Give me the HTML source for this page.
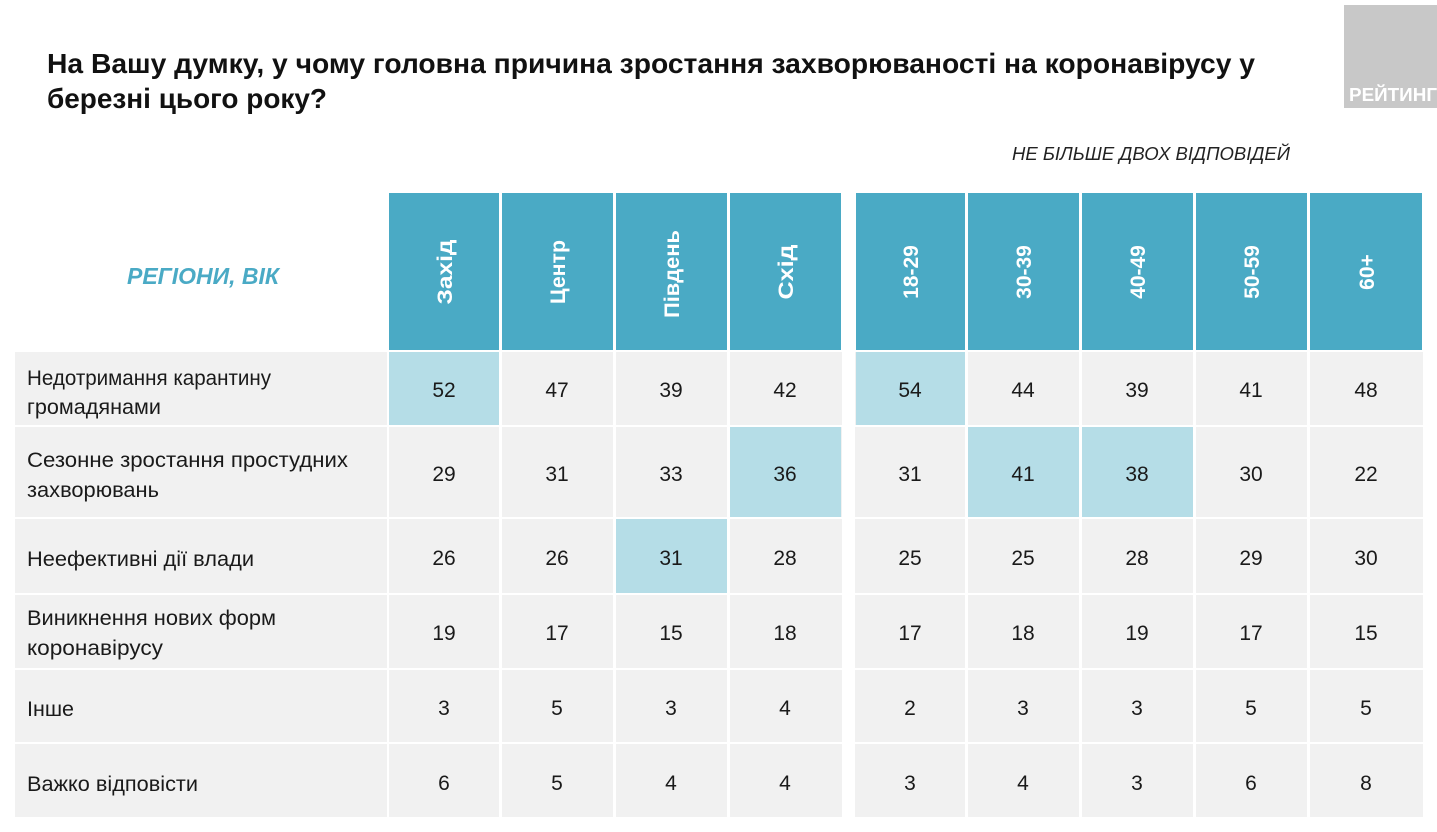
<!DOCTYPE html>
<html><head><meta charset="utf-8"><style>html,body{margin:0;padding:0;background:#fff}svg{display:block}</style></head>
<body>
<svg width="1437" height="832" viewBox="0 0 1437 832" xmlns="http://www.w3.org/2000/svg" font-family="'Liberation Sans', 'DejaVu Sans', sans-serif">
<rect width="1437" height="832" fill="#fff"/>
<text x="47" y="73" font-size="28" font-weight="bold" fill="#111" textLength="1208" lengthAdjust="spacingAndGlyphs">На Вашу думку, у чому головна причина зростання захворюваності на коронавірусу у</text>
<text x="47" y="108" font-size="28" font-weight="bold" fill="#111" textLength="280" lengthAdjust="spacingAndGlyphs">березні цього року?</text>
<rect x="1344" y="5" width="93" height="103" fill="#c8c8c8"/>
<text x="1349" y="101" font-size="18" font-weight="bold" fill="#fff" textLength="88" lengthAdjust="spacingAndGlyphs">РЕЙТИНГ</text>
<text x="1012" y="160" font-size="18" font-style="italic" fill="#222" textLength="278" lengthAdjust="spacingAndGlyphs">НЕ БІЛЬШЕ ДВОХ ВІДПОВІДЕЙ</text>
<text x="127" y="284" font-size="23" font-style="italic" font-weight="bold" fill="#4aaac5" textLength="152" lengthAdjust="spacingAndGlyphs">РЕГІОНИ, ВІК</text>
<rect x="15" y="352" width="1408" height="465" fill="#f1f1f1"/>
<g fill="#4aaac5">
<rect x="389" y="193" width="110" height="157"/><rect x="502" y="193" width="111" height="157"/><rect x="616" y="193" width="111" height="157"/><rect x="730" y="193" width="111" height="157"/>
<rect x="856" y="193" width="109" height="157"/><rect x="968" y="193" width="111" height="157"/><rect x="1082" y="193" width="111" height="157"/><rect x="1196" y="193" width="111" height="157"/><rect x="1310" y="193" width="112" height="157"/>
</g>
<rect x="842" y="352" width="13" height="465" fill="#fff"/>
<g fill="#b5dde7">
<rect x="389" y="352" width="110" height="73"/><rect x="856" y="352" width="109" height="73"/>
<rect x="730" y="427" width="111" height="90"/><rect x="968" y="427" width="111" height="90"/><rect x="1082" y="427" width="111" height="90"/>
<rect x="616" y="519" width="111" height="74"/>
</g>
<g fill="#fff">
<rect x="15" y="425" width="1408" height="2"/><rect x="15" y="517" width="1408" height="2"/><rect x="15" y="593" width="1408" height="2"/><rect x="15" y="668" width="1408" height="2"/><rect x="15" y="742" width="1408" height="2"/>
<rect x="387" y="352" width="2" height="465"/><rect x="499" y="352" width="3" height="465"/><rect x="613" y="352" width="3" height="465"/><rect x="727" y="352" width="3" height="465"/><rect x="965" y="352" width="3" height="465"/><rect x="1079" y="352" width="3" height="465"/><rect x="1193" y="352" width="3" height="465"/><rect x="1307" y="352" width="3" height="465"/>
</g>
<g font-size="21" font-weight="bold" fill="#fff" text-anchor="middle">
<text transform="translate(452,272) rotate(-90)" textLength="65" lengthAdjust="spacingAndGlyphs">Захід</text>
<text transform="translate(565,272) rotate(-90)" textLength="64" lengthAdjust="spacingAndGlyphs">Центр</text>
<text transform="translate(679,274) rotate(-90)" textLength="88" lengthAdjust="spacingAndGlyphs">Південь</text>
<text transform="translate(793,272) rotate(-90)" textLength="55" lengthAdjust="spacingAndGlyphs">Схід</text>
<text transform="translate(918,272) rotate(-90)">18-29</text>
<text transform="translate(1031,272) rotate(-90)">30-39</text>
<text transform="translate(1145,272) rotate(-90)">40-49</text>
<text transform="translate(1259,272) rotate(-90)">50-59</text>
<text transform="translate(1374,272) rotate(-90)">60+</text>
</g>
<g font-size="21" fill="#1a1a1a" lengthAdjust="spacingAndGlyphs">
<text x="27" y="385" textLength="244" lengthAdjust="spacingAndGlyphs">Недотримання карантину</text><text x="27" y="414" textLength="134" lengthAdjust="spacingAndGlyphs">громадянами</text>
<text x="27" y="467" textLength="321" lengthAdjust="spacingAndGlyphs">Сезонне зростання простудних</text><text x="27" y="497" textLength="132" lengthAdjust="spacingAndGlyphs">захворювань</text>
<text x="27" y="566" textLength="227" lengthAdjust="spacingAndGlyphs">Неефективні дії влади</text>
<text x="27" y="625" textLength="249" lengthAdjust="spacingAndGlyphs">Виникнення нових форм</text><text x="27" y="655" textLength="136" lengthAdjust="spacingAndGlyphs">коронавірусу</text>
<text x="27" y="716" textLength="47" lengthAdjust="spacingAndGlyphs">Інше</text>
<text x="27" y="791" textLength="171" lengthAdjust="spacingAndGlyphs">Важко відповісти</text>
</g>
<g font-size="21" fill="#1a1a1a" text-anchor="middle">
<g transform="translate(0,397)"><text x="444">52</text><text x="557">47</text><text x="671">39</text><text x="785">42</text><text x="910">54</text><text x="1023">44</text><text x="1137">39</text><text x="1251">41</text><text x="1366">48</text></g>
<g transform="translate(0,481)"><text x="444">29</text><text x="557">31</text><text x="671">33</text><text x="785">36</text><text x="910">31</text><text x="1023">41</text><text x="1137">38</text><text x="1251">30</text><text x="1366">22</text></g>
<g transform="translate(0,565)"><text x="444">26</text><text x="557">26</text><text x="671">31</text><text x="785">28</text><text x="910">25</text><text x="1023">25</text><text x="1137">28</text><text x="1251">29</text><text x="1366">30</text></g>
<g transform="translate(0,640)"><text x="444">19</text><text x="557">17</text><text x="671">15</text><text x="785">18</text><text x="910">17</text><text x="1023">18</text><text x="1137">19</text><text x="1251">17</text><text x="1366">15</text></g>
<g transform="translate(0,715)"><text x="444">3</text><text x="557">5</text><text x="671">3</text><text x="785">4</text><text x="910">2</text><text x="1023">3</text><text x="1137">3</text><text x="1251">5</text><text x="1366">5</text></g>
<g transform="translate(0,790)"><text x="444">6</text><text x="557">5</text><text x="671">4</text><text x="785">4</text><text x="910">3</text><text x="1023">4</text><text x="1137">3</text><text x="1251">6</text><text x="1366">8</text></g>
</g>
</svg>
</body></html>
